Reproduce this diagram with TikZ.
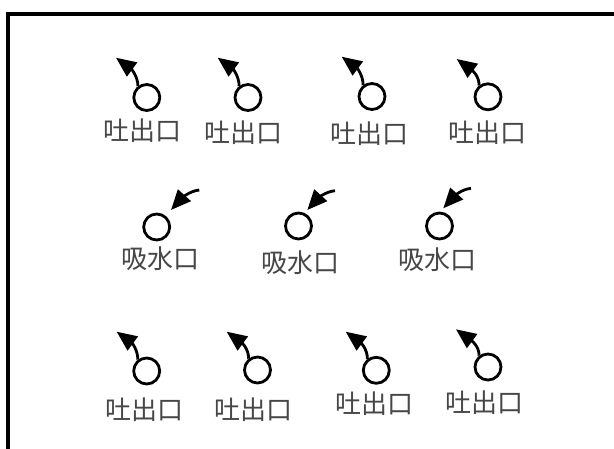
\documentclass[tikz,border=0pt]{standalone}
\usepackage{fontspec}
\newfontfamily\cjk{Noto Sans CJK JP}
\usetikzlibrary{arrows.meta,calc}
\begin{document}
\begin{tikzpicture}[x=1pt,y=-1pt,
  port/.style={circle,draw,line width=2.8pt,minimum size=26pt,inner sep=0pt},
  lbl/.style={font=\cjk\fontsize{26}{28}\selectfont,text=black!72,inner sep=0pt},
  flow/.style={line width=2.8pt,-{Triangle[length=20pt,width=17pt]}}]
\useasboundingbox (0,0) rectangle (614,448);
\clip (0,0) rectangle (614,448);
\draw[line width=3.6pt] (8,14) rectangle (630,470);
% outlet circles
\node[port] (c1) at (146.8,97.5) {};
\node[port] (c2) at (248,97.5) {};
\node[port] (c3) at (372,96.5) {};
\node[port] (c4) at (488,96.8) {};
\node[port] (c8) at (146.7,371) {};
\node[port] (c9) at (257.5,370) {};
\node[port] (c10) at (376.3,370.3) {};
\node[port] (c11) at (488,367) {};
% inlet circles
\node[port] (c5) at (156.7,227) {};
\node[port] (c6) at (298.5,226) {};
\node[port] (c7) at (439.5,226) {};
% labels
\node[lbl] (l1) at (142.7,130.5) {吐出口};
\node[lbl] (l2) at (243.5,133) {吐出口};
\node[lbl] (l3) at (369,133.5) {吐出口};
\node[lbl] (l4) at (487.5,133) {吐出口};
\node[lbl] (l5) at (160.3,259) {吸水口};
\node[lbl] (l6) at (300.5,262.5) {吸水口};
\node[lbl] (l7) at (437.5,259.5) {吸水口};
\node[lbl] (l8) at (144,409.5) {吐出口};
\node[lbl] (l9) at (253,409.5) {吐出口};
\node[lbl] (l10) at (374,404) {吐出口};
\node[lbl] (l11) at (484,402.5) {吐出口};
% outlet arrow tips
\coordinate (t1) at (116,57.7);
\coordinate (t2) at (217.7,57.7);
\coordinate (t3) at (341.7,56.7);
\coordinate (t4) at (456.7,59);
\coordinate (t8) at (116.7,331.7);
\coordinate (t9) at (226.7,331.7);
\coordinate (t10) at (345.7,331.7);
\coordinate (t11) at (456,329.3);
\foreach \i in {1,2,3,4,8,9,10,11}{
  \draw[flow] (c\i.128) .. controls ($(c\i.128)+(0,-10)$) and ($(t\i)+(15,11)$) .. (t\i);
}
% inlet arrows
\coordinate (s5) at (199.3,190);
\coordinate (t5) at (171,210);
\coordinate (s6) at (335,190.7);
\coordinate (t6) at (307.3,210);
\coordinate (s7) at (471,188.3);
\coordinate (t7) at (443.3,208.3);
\foreach \i in {5,6,7}{
  \draw[flow] (s\i) .. controls ($(s\i)+(-10,1)$) and ($(t\i)+(10,-11)$) .. (t\i);
}
\end{tikzpicture}
\end{document}
